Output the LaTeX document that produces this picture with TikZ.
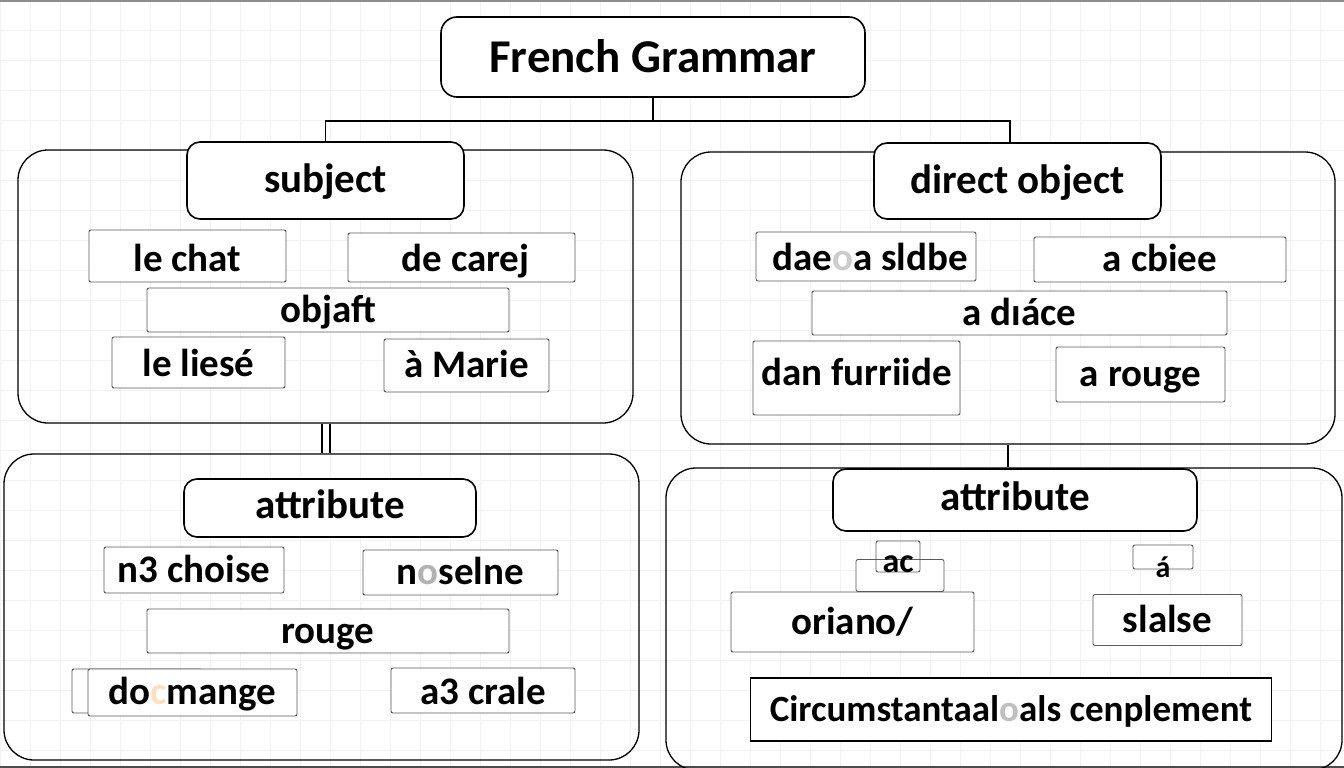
\documentclass[tikz,border=0pt]{standalone}
\usepackage{fontspec}
\setmainfont{Carlito}
\begin{document}
\begin{tikzpicture}[x=1pt, y=-1pt]

      \tikzset{group/.style={draw, line width=1.3pt, rounded corners=30pt, inner sep=0pt},
               header/.style={draw, fill=white, line width=1.6pt, rounded corners=13pt, inner sep=0pt, text height=28, text depth=4, font=\bfseries\fontsize{41}{42}\selectfont},
               word/.style={draw=black!65, fill=white, line width=0.9pt, rounded corners=2pt, inner sep=0pt, text height=28, text depth=4, font=\bfseries\fontsize{39}{40}\selectfont}}
      \useasboundingbox (0,0) rectangle (1344,768);
%% Background
      \foreach \gx in {0,30,...,1344} \draw[black!5, line width=0.6pt] (\gx,0) -- (\gx,768);
      \foreach \gy in {0,30,...,768} \draw[black!5, line width=0.6pt] (0,\gy) -- (1344,\gy);
      \draw[black!45, line width=1.2pt] (0,1) -- (1344,1);
      \draw[black!70, line width=2pt] (0,767) -- (1344,767);
%% Groups
      	\node[group, minimum width=615, minimum height=273] (grpS) at (325.5,286.5) {};
      	\node[group, minimum width=654, minimum height=292] (grpD) at (1008,298) {};
      	\node[group, minimum width=635, minimum height=306] (grpA) at (321.5,607) {};
      	\node[group, minimum width=676, minimum height=302] (grpR) at (1004,619) {};
%% Headers
      	\node[header, minimum width=424, minimum height=80, rounded corners=16pt, text height=34, text depth=2, font=\bfseries\fontsize{47}{48}\selectfont] (fg) at (653,57) {French Grammar};
      	\node[header, minimum width=277, minimum height=77] (subj) at (325.5,180.5) {subject};
      	\node[header, minimum width=287, minimum height=76] (dobj) at (1017.5,181) {direct object};
      	\node[header, minimum width=292, minimum height=58, text height=26, text depth=6] (attL) at (330,508) {attribute};
      	\node[header, minimum width=364, minimum height=62, text height=26, text depth=6] (attR) at (1015,500) {attribute};
%% Words, subject
      	\node[word, minimum width=197, minimum height=52, text height=32, text depth=2] (chat) at (187.5,256) {le chat};
      	\node[word, minimum width=227, minimum height=49, text height=30, text depth=3] (carej) at (461.5,257.5) {\hspace{8pt}de carej};
      	\node[word, minimum width=362, minimum height=44] (objaft) at (328,310) {objaft};
      	\node[word, minimum width=173, minimum height=51, text height=30, text depth=3] (liese) at (198.5,362.5) {le liesé};
      	\node[word, minimum width=165, minimum height=53] (marie) at (466.5,365.5) {à Marie};
%% Words, direct object
      	\node[word, minimum width=220, minimum height=49, text height=30, text depth=3] (sldbe) at (866,256.5) {\hspace{8pt}dae{\color{black!20}o}a sldbe};
      	\node[word, minimum width=252, minimum height=45] (cbiee) at (1160,259.5) {a cbiee};
      	\node[word, minimum width=415, minimum height=44] (diace) at (1019.5,313) {a dıáce};
      	\node[word, minimum width=207, minimum height=74, text height=44, text depth=30] (furr) at (856.5,378) {dan furriide};
      	\node[word, minimum width=169, minimum height=55] (arouge) at (1140.5,374.5) {a rouge};
%% Words, left attribute
      	\node[word, minimum width=180, minimum height=46] (choise) at (194,570) {n3 choise};
      	\node[word, minimum width=195, minimum height=45] (selne) at (460.5,572.5) {n{\color{black!30}o}selne};
      	\node[word, minimum width=362, minimum height=44] (rouge) at (328,631) {rouge};
      	\node[word, minimum width=130, minimum height=44] (docb) at (137,691) {};
      	\node[word, minimum width=209, minimum height=47] (docm) at (192.5,692.5) {do{\color{orange!25}c}mange};
      	\node[word, minimum width=184, minimum height=45, text height=30, text depth=3] (crale) at (483,690.5) {a3 crale};
%% Words, right attribute
      	\node[word, minimum width=88, minimum height=23] (acb) at (900,575.5) {};
      	\node[word, fill=none, minimum width=44, minimum height=31, text height=31, text depth=0, font=\bfseries\fontsize{34}{35}\selectfont] (ac) at (898,556.5) {ac};
      	\node[word, minimum width=60, minimum height=24, text height=12, text depth=12, font=\bfseries\fontsize{30}{32}\selectfont] (acute) at (1163,557) {\raisebox{-20pt}{á}};
      	\node[word, minimum width=243, minimum height=60] (orian) at (852.5,622) {oriano/};
      	\node[word, minimum width=149, minimum height=51] (slalse) at (1167.5,620) {slalse};
      	\node[word, draw=black, line width=1.6pt, rounded corners=0pt, minimum width=521, minimum height=63, font=\bfseries\fontsize{37}{38}\selectfont] (circ) at (1011,709.5) {Circumstantaal{\color{black!25}o}als cenplement};
%Lines
      \coordinate (jn) at (653,121);
		\draw[line width=1.8pt] (fg.south) -- (jn);
		\draw[line width=1.8pt] (subj.north) |- (jn) -| ([xshift=-7.5]dobj.north);
		\draw[line width=1.3pt] ([xshift=-3.5]grpS.south) -- ([xshift=-3.5]grpS.south |- grpA.north);
		\draw[line width=1.3pt] ([xshift=4.5]grpS.south) -- ([xshift=4.5]grpS.south |- grpA.north);
		\draw[line width=1.5pt] (grpD.south) -- (grpD.south |- grpR.north);

\end{tikzpicture}
\end{document}
